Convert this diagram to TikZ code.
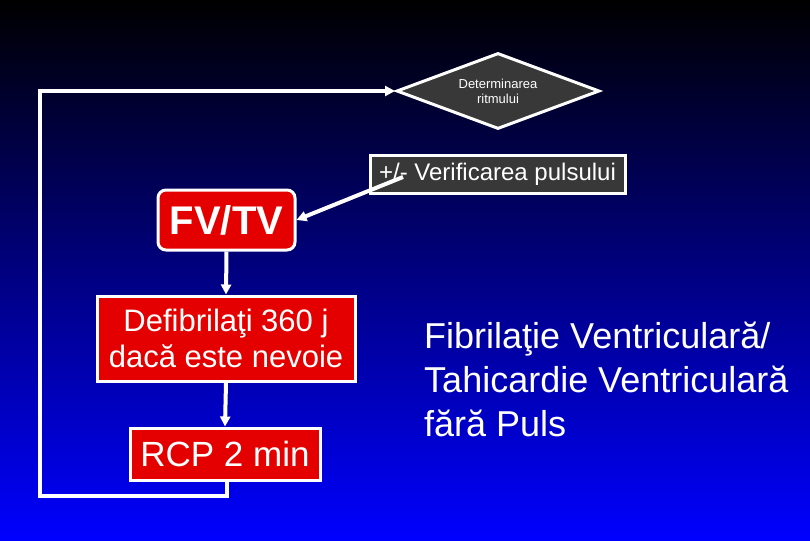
\documentclass[tikz,border=0pt]{standalone}
\usepackage{fontspec}
\setmainfont{Liberation Sans}
\usetikzlibrary{shapes.geometric,arrows.meta}
\begin{document}
\begin{tikzpicture}[x=1pt,y=-1pt,
  redbox/.style={draw=white,line width=3pt,fill=red!90!black,text=white,inner sep=0pt,anchor=center},
  greybox/.style={draw=white,line width=3pt,fill=black!78,text=white,inner sep=0pt},
  link/.style={draw=white,line width=4pt,-{Triangle[length=10pt,width=10pt]}}]
\shade[top color=black,bottom color=blue] (0,0) rectangle (810,540);
\useasboundingbox (0,0) rectangle (810,540);
\node[greybox,diamond,minimum width=203pt,minimum height=76pt,font=\fontsize{13}{15}\selectfont,align=center,aspect=2.67] (d) at (498,91) {Determinarea\\ritmului};
\node[greybox,minimum width=255pt,minimum height=37pt,font=\fontsize{24}{26}\selectfont] (p) at (497.5,174.5) {+/- Verificarea pulsului};
\node[redbox,rounded corners=8pt,minimum width=137pt,minimum height=60pt,font=\fontsize{40}{44}\selectfont\bfseries] (fv) at (226.5,220) {FV/TV};
\node[redbox,minimum width=258pt,minimum height=85pt,font=\fontsize{31}{36}\selectfont,align=center] (def) at (226,338.5) {Defibrilaţi 360 j\\dacă este nevoie};
\node[redbox,minimum width=190pt,minimum height=52pt,font=\fontsize{35}{38}\selectfont] (rcp) at (225,454) {RCP 2 min};
\coordinate (ps) at (403,177);
\draw[link] (ps) -- (fv.east);
\draw[link] (fv.south) -- (def.north);
\draw[link] (def.south) -- (rcp.north);
\coordinate (c1) at (227,496);
\coordinate (c2) at (40,496);
\coordinate (c3) at (40,91);
\draw[link] (rcp.south -| c1) -- (c1) -- (c2) -- (c3) -- (d.west);
\node[text=white,anchor=north west,align=left,font=\fontsize{36}{44}\selectfont,inner sep=0pt] (t) at (424,322) {Fibrilaţie Ventriculară/\\Tahicardie Ventriculară\\fără Puls};
\end{tikzpicture}
\end{document}
